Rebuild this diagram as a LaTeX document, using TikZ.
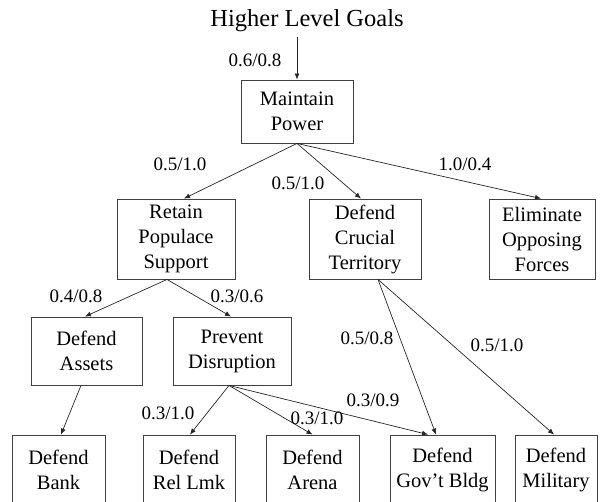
\documentclass[tikz,border=0pt]{standalone}
\usepackage{fontspec}
\setmainfont{Liberation Serif}
\usetikzlibrary{arrows.meta}
\begin{document}
\begin{tikzpicture}[x=1pt,y=-1pt,
  box/.style={draw=black!75, line width=0.9pt, align=center, inner sep=0pt, font=\fontsize{20.5}{25}\selectfont},
  lab/.style={inner sep=0pt, font=\fontsize{19}{19}\selectfont, text height=13pt, text depth=0pt},
  conn/.style={draw=black!85, line width=0.7pt, -{Latex[length=6pt,width=5pt]}}]
\useasboundingbox (0,0) rectangle (602,502);
\clip (0,0) rectangle (602,502);
% title
\node[anchor=base, font=\fontsize{24.5}{28}\selectfont, inner sep=0pt] (title) at (307,27) {Higher Level Goals};
\coordinate (src) at (297,37);
% boxes
\node[box, minimum width=112pt, minimum height=63pt] (mp) at (297,111.5) {Maintain\\Power};
\node[box, minimum width=118pt, minimum height=80pt] (rps) at (176,239) {Retain\\Populace\\Support};
\node[box, minimum width=112pt, minimum height=80pt] (dct) at (365,239) {Defend\\Crucial\\Territory};
\node[box, minimum width=106pt, minimum height=80pt] (eof) at (542,239) {Eliminate\\Opposing\\Forces};
\node[box, minimum width=111pt, minimum height=68pt] (da) at (86.5,351) {Defend\\Assets};
\node[box, minimum width=118pt, minimum height=68pt] (pd) at (232,351) {Prevent\\Disruption};
\node[box, minimum width=93pt, minimum height=70pt] (db) at (58.5,470) {Defend\\Bank};
\node[box, minimum width=92pt, minimum height=70pt] (drl) at (189,470) {Defend\\Rel Lmk};
\node[box, minimum width=93pt, minimum height=70pt] (dar) at (312.5,470) {Defend\\Arena};
\node[box, minimum width=105pt, minimum height=70pt] (dgb) at (442.5,470) {Defend\\Gov’t Bldg};
\node[box, minimum width=82pt, minimum height=70pt] (dmil) at (556,470) {Defend\\Military};
% connectors
\draw[conn] (src) -- (mp.north);
\draw[conn] (mp.south) -- ([xshift=8pt]rps.north);
\draw[conn] (mp.south) -- ([xshift=-4pt]dct.north);
\draw[conn] (mp.south) -- ([xshift=-1pt]eof.north);
\draw[conn] ([xshift=-9pt]rps.south) -- ([xshift=-1.5pt]da.north);
\draw[conn] ([xshift=-9pt]rps.south) -- ([xshift=-1pt]pd.north);
\draw[conn] ([xshift=13pt]dct.south) -- ([xshift=-6.5pt]dgb.north);
\draw[conn] ([xshift=13pt]dct.south) -- ([xshift=-2pt]dmil.north);
\draw[conn] ([xshift=-5.5pt]da.south) -- ([xshift=2.5pt]db.north);
\draw[conn] ([xshift=-3pt]pd.south) -- ([xshift=1pt]drl.north);
\draw[conn] ([xshift=-3pt]pd.south) -- (dar.north);
\draw[conn] ([xshift=-3pt]pd.south) -- ([xshift=-14.5pt]dgb.north);
% labels
\node[lab] (l1) at (255,60) {0.6/0.8};
\node[lab] (l2) at (180,164) {0.5/1.0};
\node[lab] (l3) at (298,183) {0.5/1.0};
\node[lab] (l4) at (465,164) {1.0/0.4};
\node[lab] (l5) at (76,296) {0.4/0.8};
\node[lab] (l6) at (237,296) {0.3/0.6};
\node[lab] (l7) at (367,338) {0.5/0.8};
\node[lab] (l8) at (497,345) {0.5/1.0};
\node[lab] (l9) at (373,400) {0.3/0.9};
\node[lab] (l10) at (168,413) {0.3/1.0};
\node[lab] (l11) at (317,418) {0.3/1.0};
\end{tikzpicture}
\end{document}
